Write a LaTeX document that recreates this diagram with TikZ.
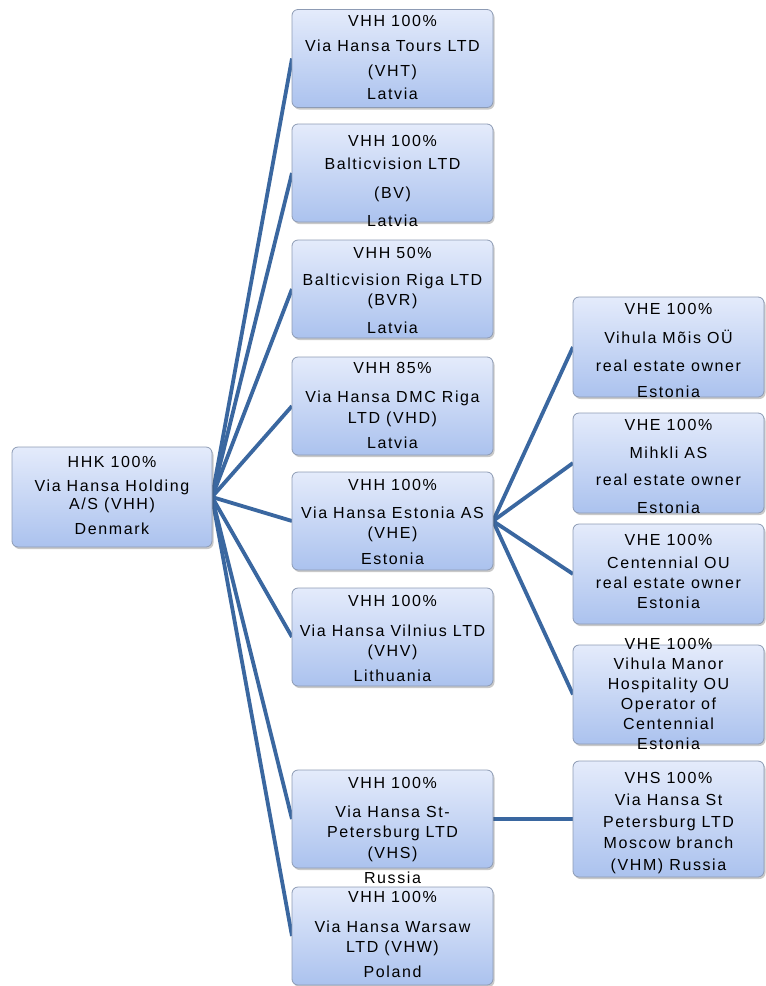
\documentclass[tikz,border=0pt]{standalone}
\usepackage{fontspec}
\setmainfont{Liberation Sans}[LetterSpace=10]
\usetikzlibrary{shadows,backgrounds}
\definecolor{edgeblue}{HTML}{3A67A0}
\definecolor{boxline}{HTML}{8D9BB4}
\definecolor{boxtop}{HTML}{E4EBFB}
\definecolor{boxbot}{HTML}{ABC2EE}
\newcommand{\bt}[4]{\parbox[c][#2][t]{#1}{\fontsize{16pt}{20pt}\selectfont\centering\vspace*{#3}#4}}
\tikzset{
  box/.style={draw=boxline, line width=0.8pt, rounded corners=6pt,
    top color=boxtop, bottom color=boxbot, inner sep=0pt, outer sep=0pt,
    drop shadow={shadow xshift=1.5pt, shadow yshift=-2pt, opacity=0.3, fill=black!70}},
  conn/.style={draw=edgeblue, line width=3.8pt}
}
\begin{document}
\begin{tikzpicture}[x=1pt,y=-1pt]
\useasboundingbox (0,0) rectangle (766,986);
% root
\node[box] (root) at (112,497) {\bt{200pt}{100pt}{9pt}{HHK 100\%\\[4pt] Via Hansa Holding\\[-2pt] A/S (VHH)\\[5pt] Denmark}};
% middle column
\node[box] (b1) at (392.5,58.5) {\bt{201pt}{98pt}{6pt}{VHH 100\%\\[5pt] Via Hansa Tours LTD\\[5pt] (VHT)\\[3pt] Latvia}};
\node[box] (b2) at (392.5,173) {\bt{201pt}{98pt}{11pt}{VHH 100\%\\[3pt] Balticvision LTD\\[9pt] (BV)\\[8pt] Latvia}};
\node[box] (b3) at (392.5,289) {\bt{201pt}{98pt}{7pt}{VHH 50\%\\[7pt] Balticvision Riga LTD\\ (BVR)\\[8pt] Latvia}};
\node[box] (b4) at (392.5,406) {\bt{201pt}{98pt}{5pt}{VHH 85\%\\[9pt] Via Hansa DMC Riga\\[1pt] LTD (VHD)\\[5pt] Latvia}};
\node[box] (b5) at (392.5,521) {\bt{201pt}{98pt}{7pt}{VHH 100\%\\[8pt] Via Hansa Estonia AS\\ (VHE)\\[6pt] Estonia}};
\node[box] (b6) at (392.5,637) {\bt{201pt}{98pt}{7pt}{VHH 100\%\\[10pt] Via Hansa Vilnius LTD\\ (VHV)\\[5pt] Lithuania}};
\node[box] (b7) at (392.5,819) {\bt{201pt}{98pt}{7pt}{VHH 100\%\\[9pt] Via Hansa St-\\ Petersburg LTD\\[1pt] (VHS)\\[5pt] Russia}};
\node[box] (b8) at (392.5,936) {\bt{201pt}{98pt}{4pt}{VHH 100\%\\[10pt] Via Hansa Warsaw\\ LTD (VHW)\\[5pt] Poland}};
% right column
\node[box] (r1) at (668.5,347) {\bt{191pt}{100pt}{6pt}{VHE 100\%\\[9pt] Vihula Mõis OÜ\\[8pt] real estate owner\\[6pt] Estonia}};
\node[box] (r2) at (668.5,463) {\bt{191pt}{100pt}{6pt}{VHE 100\%\\[8pt] Mihkli AS\\[7pt] real estate owner\\[8pt] Estonia}};
\node[box] (r3) at (668.5,574) {\bt{191pt}{100pt}{10pt}{VHE 100\%\\[3pt] Centennial OU\\ real estate owner\\ Estonia}};
\node[box] (r4) at (668.5,694.5) {\bt{191pt}{99pt}{-7pt}{VHE 100\%\\ Vihula Manor\\ Hospitality OU\\ Operator of\\ Centennial\\ Estonia}};
\node[box] (r5) at (668.5,819) {\bt{191pt}{116pt}{11pt}{VHS 100\%\\[2pt] Via Hansa St\\[2pt] Petersburg LTD\\[1pt] Moscow branch\\[2pt] (VHM) Russia}};
% connectors
\begin{pgfonlayer}{background}
\foreach \b in {b1,b2,b3,b4,b5,b6,b7,b8}{\draw[conn] (root.east) -- (\b.west);}
\foreach \r in {r1,r2,r3,r4}{\draw[conn] (b5.east) -- (\r.west);}
\draw[conn] (b7.east) -- (r5.west);
\end{pgfonlayer}
\end{tikzpicture}
\end{document}
